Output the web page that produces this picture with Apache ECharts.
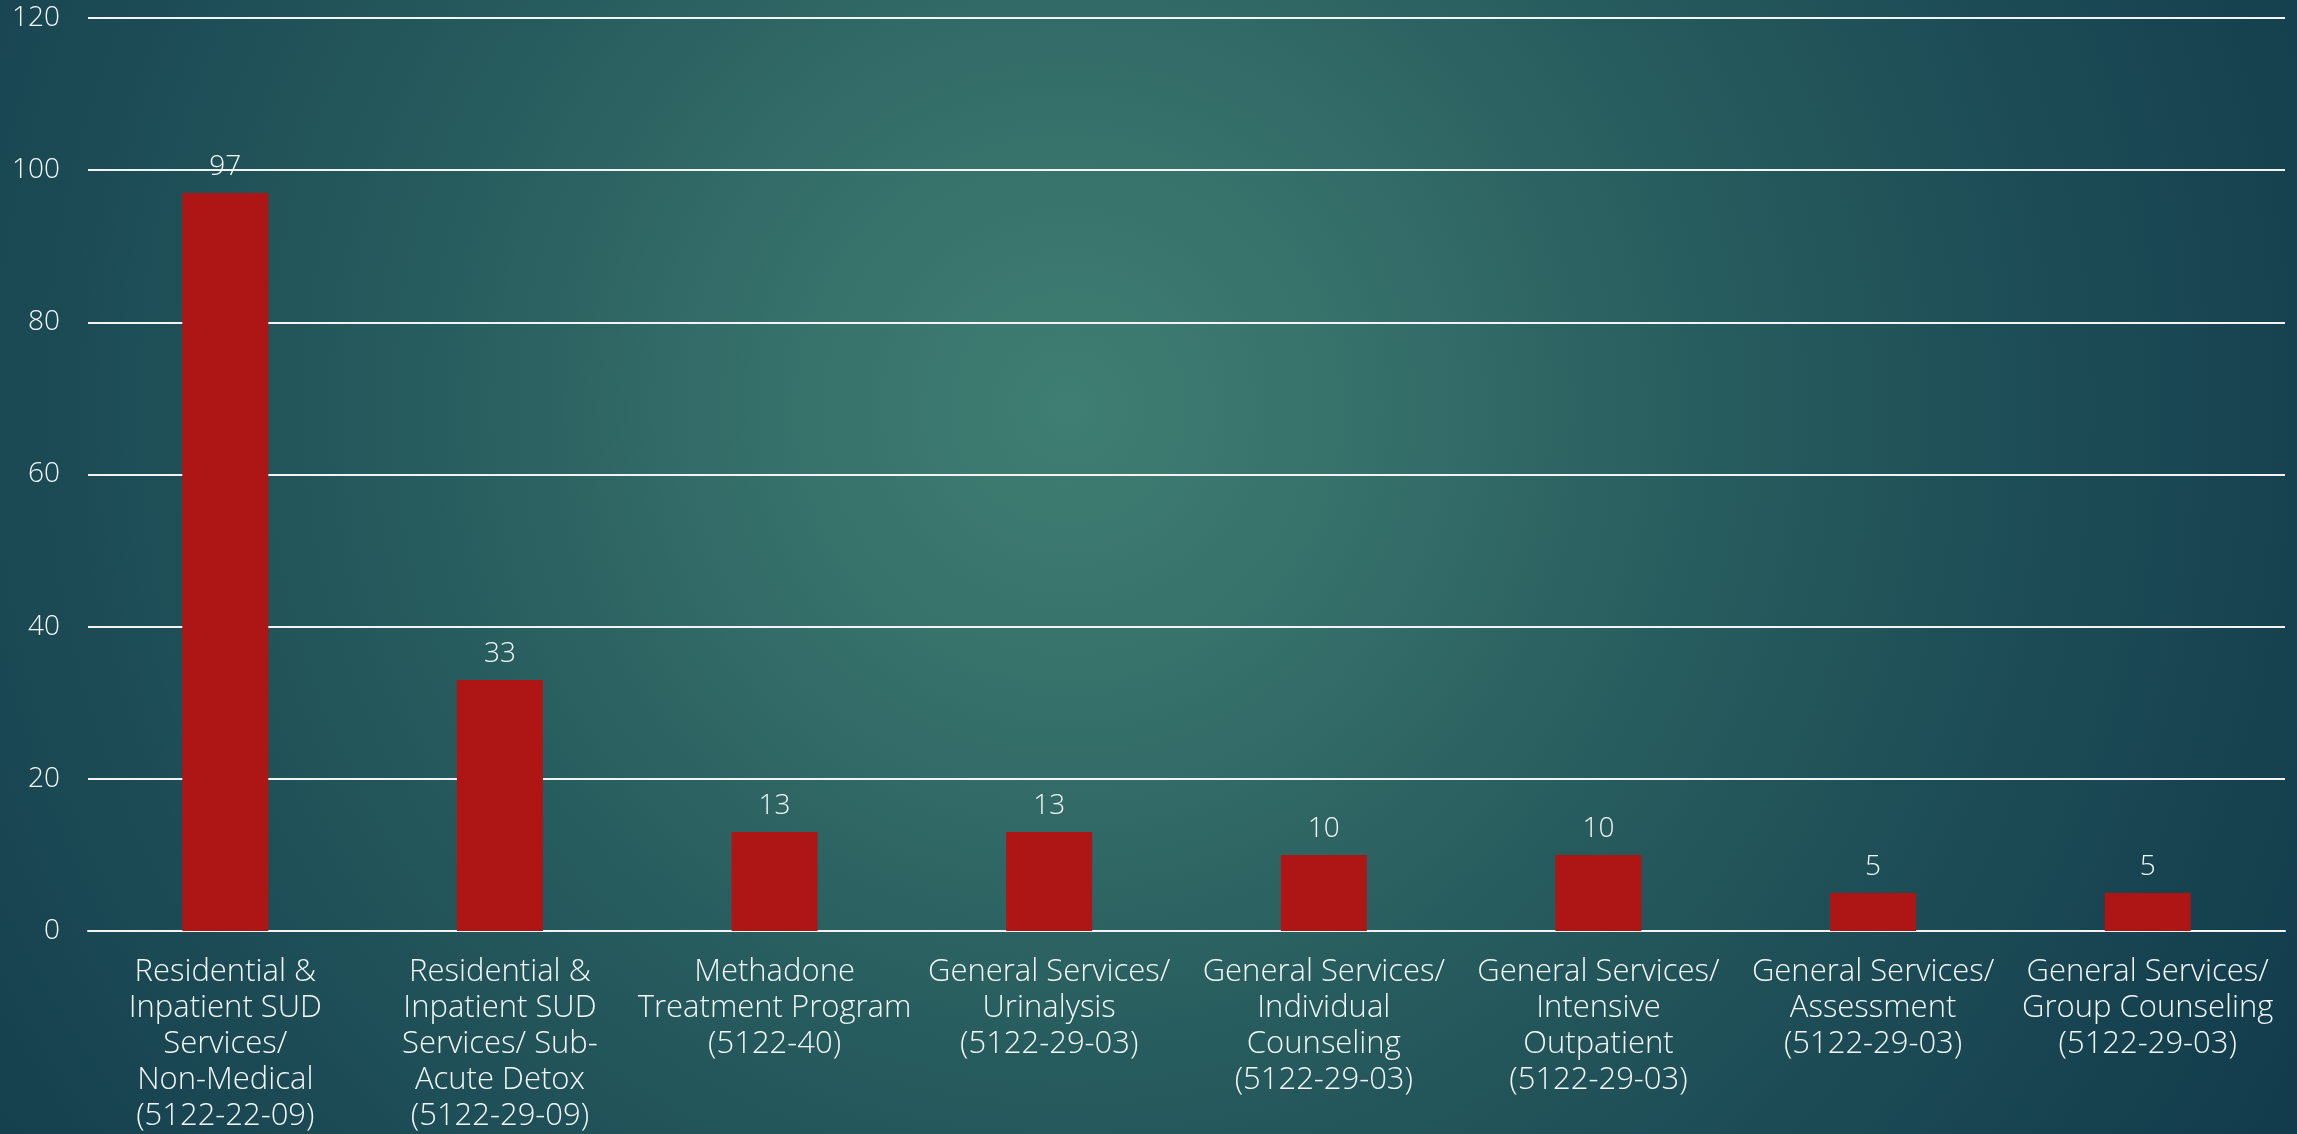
<!DOCTYPE html>
<html>
<head>
<meta charset="utf-8">
<title>SUD Services</title>
<script src="https://cdn.jsdelivr.net/npm/echarts@6/dist/echarts.min.js"></script>
<style>
  html, body { margin: 0; padding: 0; width: 100%; height: 100%; overflow: hidden; }
  body {
    background: radial-gradient(circle farthest-corner at 46.5% 36%,
      #3f7e72 0px, #36706a 300px, #275c5e 650px, #1c4b55 1000px, #113a4b 1450px);
  }
  #chart { width: 2297px; height: 1134px; }
</style>
</head>
<body>
<div id="chart"></div>
<script>
// Service categories (line breaks as printed under each bar)
const categories = [
  'Residential &\nInpatient SUD\nServices/\nNon-Medical\n(5122-22-09)',
  'Residential &\nInpatient SUD\nServices/ Sub-\nAcute Detox\n(5122-29-09)',
  'Methadone\nTreatment Program\n(5122-40)',
  'General Services/\nUrinalysis\n(5122-29-03)',
  'General Services/\nIndividual\nCounseling\n(5122-29-03)',
  'General Services/\nIntensive\nOutpatient\n(5122-29-03)',
  'General Services/\nAssessment\n(5122-29-03)',
  'General Services/\nGroup Counseling\n(5122-29-03)'
];

// Count per service
const counts = [97, 33, 13, 13, 10, 10, 5, 5];

// Value axis range
const yMin = 0;
const yMax = 120;
const yStep = 20;

const textColor = '#f2f6f6';
const fontFamily = '"Open Sans", Lato, sans-serif';

const chart = echarts.init(document.getElementById('chart'), null, { renderer: 'canvas' });

chart.setOption({
  backgroundColor: 'transparent',
  animation: false,
  grid: { left: 88, right: 12, top: 18, bottom: 196, containLabel: false },
  xAxis: {
    type: 'category',
    data: categories,
    axisLine: { show: true, lineStyle: { color: '#f2f4f4', width: 2 } },
    axisTick: { show: false },
    axisLabel: {
      interval: 0,
      color: textColor,
      fontFamily: fontFamily,
      fontWeight: 300,
      fontSize: 31,
      lineHeight: 36,
      margin: 23,
      align: 'center'
    }
  },
  yAxis: {
    type: 'value',
    min: yMin,
    max: yMax,
    interval: yStep,
    axisLine: { show: false },
    axisTick: { show: false },
    axisLabel: {
      color: textColor,
      fontFamily: fontFamily,
      fontWeight: 300,
      fontSize: 28,
      margin: 28
    },
    splitLine: { show: true, lineStyle: { color: '#f2f4f4', width: 2 } }
  },
  series: [{
    type: 'bar',
    data: counts,
    barWidth: 86,
    itemStyle: { color: '#ae1616' },
    label: {
      show: true,
      position: 'top',
      distance: 12,
      color: textColor,
      fontFamily: fontFamily,
      fontWeight: 300,
      fontSize: 28
    }
  }]
});
</script>
</body>
</html>
